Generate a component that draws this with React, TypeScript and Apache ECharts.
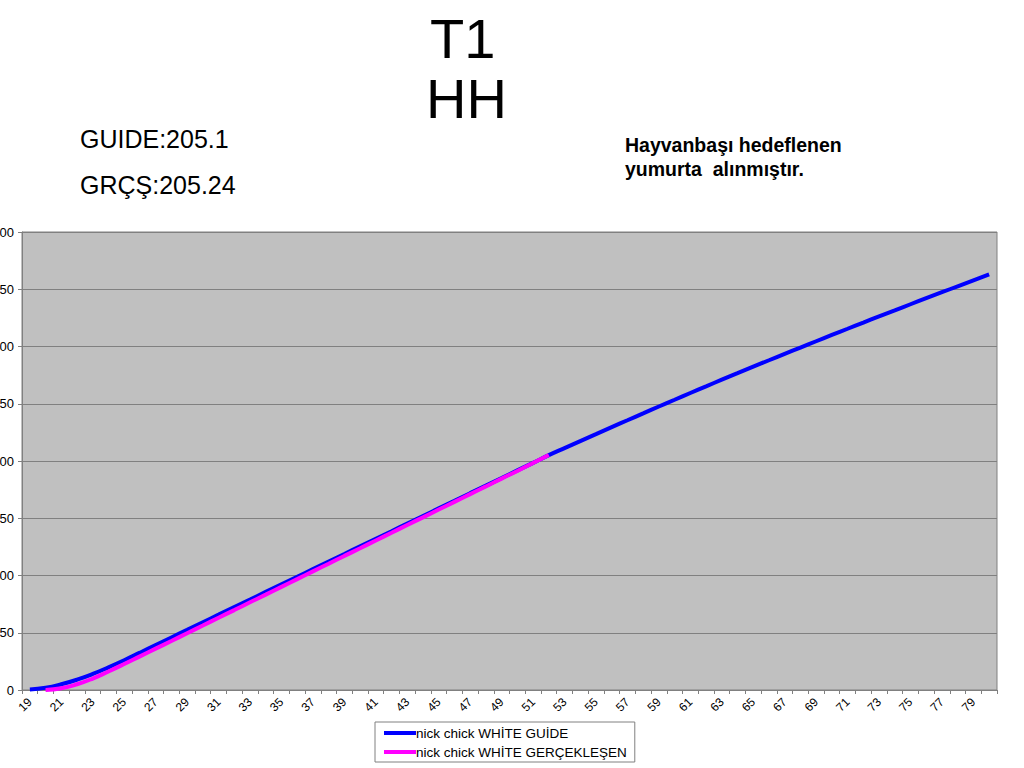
import React, { useEffect, useRef } from "react";
import * as echarts from "echarts";

const weeks: string[] = [];
for (let w = 19; w <= 80; w++) weeks.push(String(w));

const guideValues: number[] = [
  0.5, 2.0, 5.0, 9.0, 14.0, 19.8, 26.0, 32.6, 39.3, 45.9,
  52.5, 59.2, 65.8, 72.4, 79.0, 85.7, 92.3, 98.9, 105.6, 112.2,
  118.8, 125.5, 132.1, 138.7, 145.4, 152.0, 158.6, 165.2, 171.9, 178.5,
  185.1, 191.8, 198.4, 205.1, 211.3, 217.4, 223.5, 229.6, 235.6, 241.6,
  247.6, 253.5, 259.4, 265.2, 271.0, 276.7, 282.4, 288.0, 293.6, 299.1,
  304.6, 310.1, 315.5, 320.9, 326.3, 331.6, 336.9, 342.2, 347.4, 352.6,
  357.8, 363.0,
];

const actualValues: (number | null)[] = [
  null, 0, 1.5, 5.0, 10.0, 16.2, 22.7, 29.4, 36.1, 42.8,
  49.6, 56.3, 63.1, 69.8, 76.6, 83.3, 90.1, 96.8, 103.6, 110.3,
  117.1, 123.8, 130.6, 137.3, 144.1, 150.8, 157.6, 164.3, 171.1, 177.8,
  184.6, 191.3, 198.2, 205.24,
];

const seriesNames = ["nick chick WHİTE GUİDE", "nick chick WHİTE GERÇEKLEŞEN"];

export default function App() {
  const ref = useRef<HTMLDivElement>(null);
  useEffect(() => {
    if (!ref.current) return;
    const chart = echarts.init(ref.current, null, { renderer: "svg" });
    const font = "Arial, 'Liberation Sans', sans-serif";
    chart.setOption({
      animation: false,
      backgroundColor: "#ffffff",
      textStyle: { fontFamily: font },
      grid: {
        left: 22, right: 27, top: 232, bottom: 78,
        containLabel: false,
        outerBoundsMode: "none",
        show: true, backgroundColor: "#c0c0c0", borderColor: "#808080", borderWidth: 1,
      },
      legend: {
        orient: "vertical",
        left: 375,
        top: 722,
        itemWidth: 32,
        itemHeight: 4,
        itemGap: 5,
        padding: [4, 8, 3, 9],
        borderColor: "#808080",
        borderWidth: 1,
        backgroundColor: "#ffffff",
        icon: "rect",
        textStyle: { fontFamily: font, fontSize: 13.5, color: "#000", padding: [0, 0, 0, -5] },
        data: seriesNames,
      },
      graphic: [
        { type: "text", left: 430, top: 10, style: { text: "T1", font: `56px ${font}`, fill: "#000" } },
        { type: "text", left: 426, top: 70, style: { text: "HH", font: `56px ${font}`, fill: "#000" } },
        { type: "text", left: 80, top: 126, style: { text: "GUIDE:205.1", font: `25px ${font}`, fill: "#000" } },
        { type: "text", left: 80, top: 172, style: { text: "GRÇŞ:205.24", font: `25px ${font}`, fill: "#000" } },
        { type: "text", left: 625, top: 133, style: { text: "Hayvanbaşı hedeflenen\nyumurta  alınmıştır.", font: `bold 19.5px ${font}`, lineHeight: 24, fill: "#000" } },
      ],
      xAxis: {
        type: "category",
        data: weeks,
        boundaryGap: true,
        axisLine: { lineStyle: { color: "#808080" } },
        axisTick: { show: true, interval: 0, length: 4, lineStyle: { color: "#808080" } },
        axisLabel: { interval: 1, rotate: 45, fontSize: 12, color: "#000", fontFamily: font, margin: 10 },
        splitLine: { show: false },
      },
      yAxis: {
        type: "value",
        min: 0,
        max: 400,
        interval: 50,
        axisLine: { show: true, lineStyle: { color: "#808080" } },
        axisTick: { show: true, length: 4, lineStyle: { color: "#808080" } },
        axisLabel: { fontSize: 13, color: "#000", fontFamily: font, margin: 8 },
        splitLine: { lineStyle: { color: "#808080", width: 1 } },
      },
      series: [
        {
          name: seriesNames[0],
          type: "line",
          data: guideValues,
          smooth: true,
          showSymbol: false,
          lineStyle: { color: "#0000ff", width: 4 },
          itemStyle: { color: "#0000ff" },
        },
        {
          name: seriesNames[1],
          type: "line",
          data: actualValues,
          smooth: true,
          showSymbol: false,
          lineStyle: { color: "#ff00ff", width: 4 },
          itemStyle: { color: "#ff00ff" },
        },
      ],
    });
    return () => chart.dispose();
  }, []);
  return <div ref={ref} style={{ position: "absolute", left: 0, top: 0, width: 1024, height: 768 }} />;
}
